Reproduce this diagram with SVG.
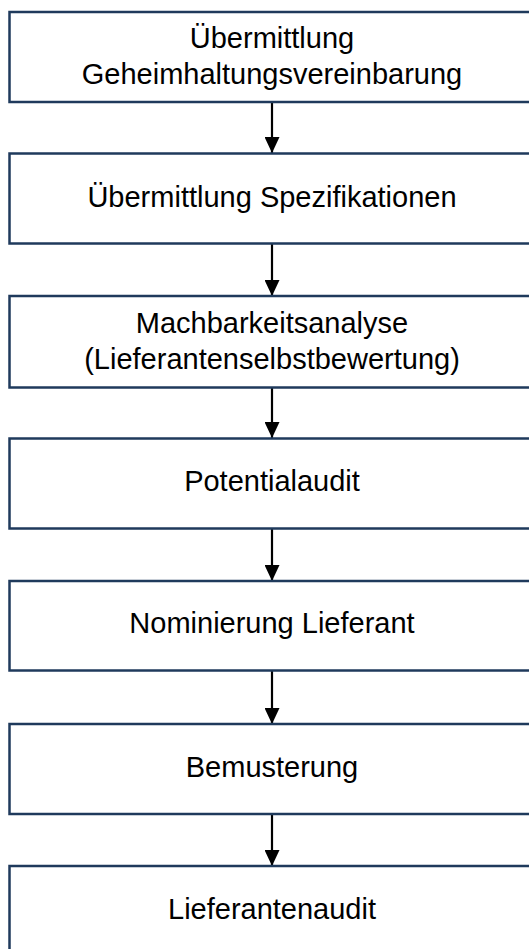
<svg xmlns="http://www.w3.org/2000/svg" width="529" height="949" viewBox="0 0 529 949">
<defs>
<style>
.box{fill:#ffffff;stroke:#1f3a5c;stroke-width:2.5}
.lbl{font-family:"Liberation Sans",Arial,sans-serif;font-size:29px;fill:#000000;text-anchor:middle}
.conn{stroke:#000000;stroke-width:2.2;fill:none}
</style>
<marker id="ah" markerWidth="16" markerHeight="15" refX="16" refY="7.5" orient="auto" markerUnits="userSpaceOnUse">
<path d="M0,0 L16,7.5 L0,15 Z" fill="#000000"/>
</marker>
</defs>
<rect width="529" height="949" fill="#ffffff"/>
<g id="connectors">
<line class="conn" x1="272" y1="102" x2="272" y2="153" marker-end="url(#ah)"/>
<line class="conn" x1="272" y1="244" x2="272" y2="296" marker-end="url(#ah)"/>
<line class="conn" x1="272" y1="388" x2="272" y2="438" marker-end="url(#ah)"/>
<line class="conn" x1="272" y1="529" x2="272" y2="581" marker-end="url(#ah)"/>
<line class="conn" x1="272" y1="671" x2="272" y2="724" marker-end="url(#ah)"/>
<line class="conn" x1="272" y1="814" x2="272" y2="866" marker-end="url(#ah)"/>
</g>
<g id="n1">
<rect class="box" x="9.5" y="12" width="530" height="90"/>
<text class="lbl" x="272" y="48">Übermittlung</text>
<text class="lbl" x="272" y="84">Geheimhaltungsvereinbarung</text>
</g>
<g id="n2">
<rect class="box" x="9.5" y="153.5" width="530" height="90"/>
<text class="lbl" x="272" y="207">Übermittlung Spezifikationen</text>
</g>
<g id="n3">
<rect class="box" x="9.5" y="296" width="530" height="91.5"/>
<text class="lbl" x="272" y="333">Machbarkeitsanalyse</text>
<text class="lbl" x="272" y="369">(Lieferantenselbstbewertung)</text>
</g>
<g id="n4">
<rect class="box" x="9.5" y="438.5" width="530" height="90"/>
<text class="lbl" x="272" y="491">Potentialaudit</text>
</g>
<g id="n5">
<rect class="box" x="9.5" y="581" width="530" height="89.5"/>
<text class="lbl" x="272" y="633">Nominierung Lieferant</text>
</g>
<g id="n6">
<rect class="box" x="9.5" y="724" width="530" height="90"/>
<text class="lbl" x="272" y="777">Bemusterung</text>
</g>
<g id="n7">
<rect class="box" x="9.5" y="866" width="530" height="90"/>
<text class="lbl" x="272" y="919">Lieferantenaudit</text>
</g>
</svg>
